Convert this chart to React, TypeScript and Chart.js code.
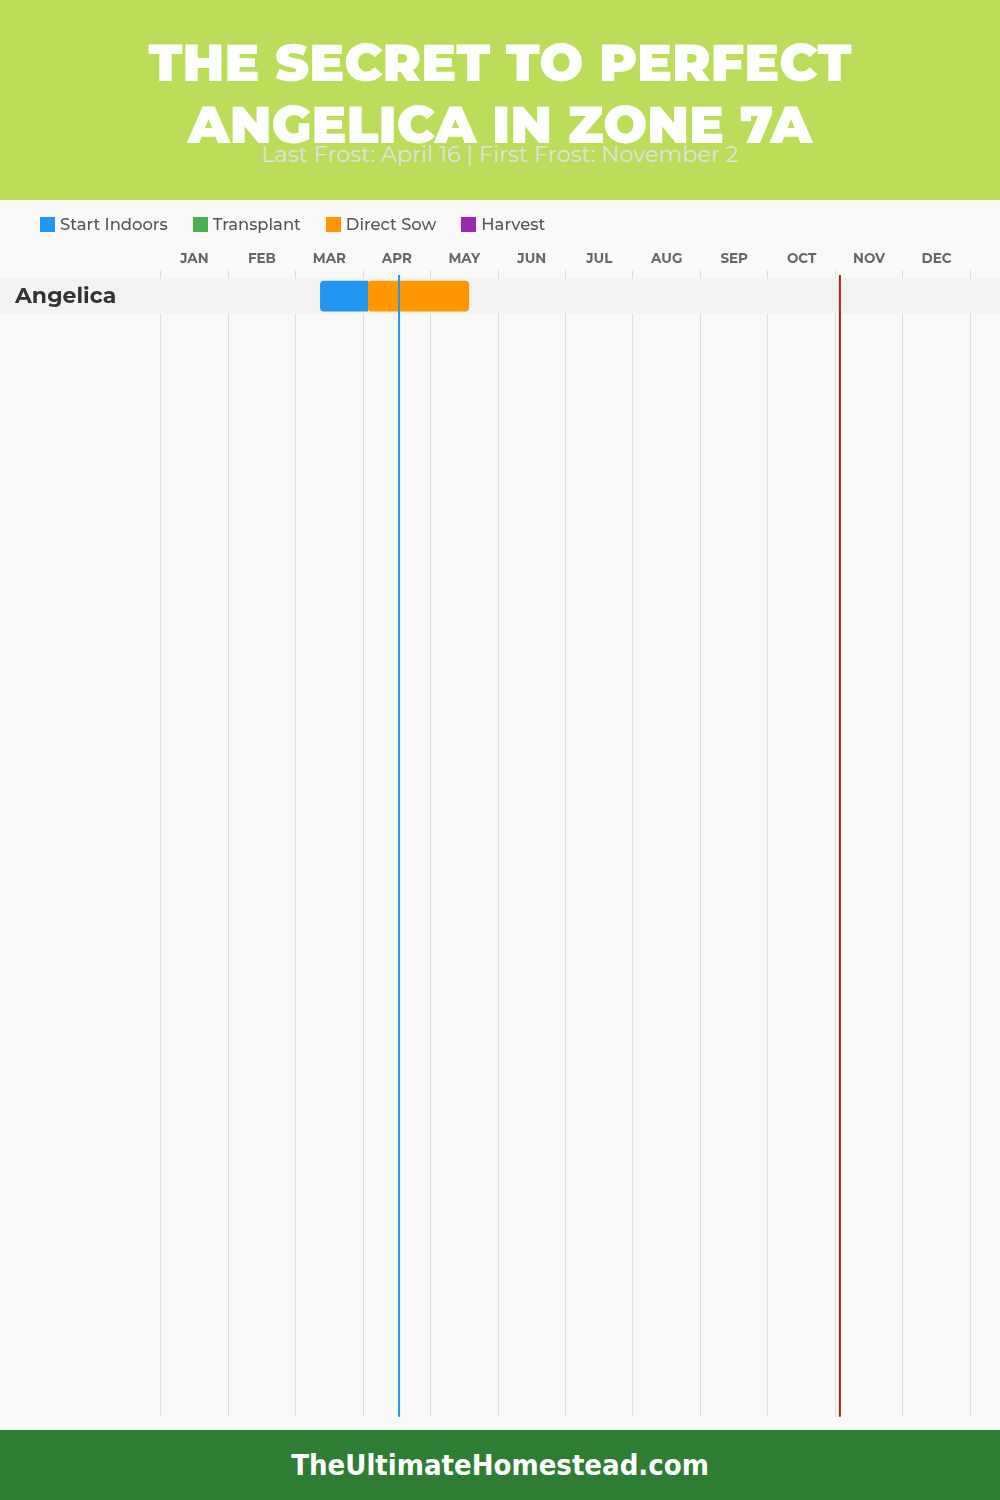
import React, { useEffect, useRef } from 'react';
import { Chart, registerables } from 'chart.js';

Chart.register(...registerables);

const TITLE_LINES = ['THE SECRET TO PERFECT', 'ANGELICA IN ZONE 7A'];
const SUBTITLE = 'Last Frost: April 16 | First Frost: November 2';
const FOOTER = 'TheUltimateHomestead.com';

const MONTHS = ['JAN', 'FEB', 'MAR', 'APR', 'MAY', 'JUN', 'JUL', 'AUG', 'SEP', 'OCT', 'NOV', 'DEC'];
const CROPS = ['Angelica'];

const SERIES_NAMES = ['Start Indoors', 'Transplant', 'Direct Sow', 'Harvest'];
const SERIES_COLORS = ['#2196F3', '#4CAF50', '#FF9800', '#9C27B0'];

// values in month units: month index + day / 30 (one entry per crop, null = none)
const START_INDOORS: (number[] | null)[] = [[2.367, 3.067]];
const TRANSPLANT: (number[] | null)[] = [null];
const DIRECT_SOW: (number[] | null)[] = [[3.067, 4.567]];
const HARVEST: (number[] | null)[] = [null];

const LAST_FROST = 3.533; // April 16
const FIRST_FROST = 10.067; // November 2

const ROW_SLOTS = 32.857;

const FONT = 'Montserrat, Inter, "Noto Sans", sans-serif';

export default function App() {
  const ref = useRef<HTMLCanvasElement>(null);

  useEffect(() => {
    document.body.style.margin = '0';
    const canvas = ref.current;
    if (!canvas) return;

    const series = [START_INDOORS, TRANSPLANT, DIRECT_SOW, HARVEST];
    const datasets = series.map((arr, s) => ({
      label: SERIES_NAMES[s],
      data: arr
        .map((r, i) => (r ? { x: r, y: i } : null))
        .filter((d) => d !== null) as any[],
      backgroundColor: SERIES_COLORS[s],
      borderWidth: 0,
      borderSkipped: false as const,
      borderRadius:
        s === 0
          ? { topLeft: 4, bottomLeft: 4, topRight: 0, bottomRight: 0 }
          : 4,
      barThickness: 30,
      stack: 'row',
    }));

    const rowBand = {
      id: 'rowBand',
      beforeDatasetsDraw(chart: any) {
        const { ctx, scales } = chart;
        const y = scales.y;
        ctx.save();
        ctx.fillStyle = '#F3F3F1';
        CROPS.forEach((_, i) => {
          const top = y.getPixelForValue(i - 0.5);
          const bottom = y.getPixelForValue(i + 0.5);
          ctx.fillRect(0, top, chart.width, bottom - top);
        });
        ctx.restore();
      },
    };

    const frostLines = {
      id: 'frostLines',
      afterDatasetsDraw(chart: any) {
        const { ctx, chartArea, scales } = chart;
        const x = scales.x;
        const lines: [number, string][] = [
          [LAST_FROST, '#2196F3'],
          [FIRST_FROST, '#B71C1C'],
        ];
        ctx.save();
        lines.forEach(([v, c]) => {
          const px = x.getPixelForValue(v);
          ctx.strokeStyle = c;
          ctx.lineWidth = 2;
          ctx.beginPath();
          ctx.moveTo(px, chartArea.top + 5);
          ctx.lineTo(px, chartArea.bottom);
          ctx.stroke();
        });
        ctx.restore();
      },
    };

    const chart = new Chart(canvas, {
      type: 'bar',
      data: { datasets: datasets as any },
      options: {
        indexAxis: 'y',
        animation: false,
        responsive: false,
        layout: { padding: { top: 50, left: 15, right: 29.7, bottom: 10 } },
        plugins: {
          legend: { display: false },
          tooltip: { enabled: false },
        },
        scales: {
          x: {
            type: 'linear',
            position: 'top',
            min: 0,
            max: 12,
            offset: false,
            stacked: false,
            afterFit: (s: any) => {
              s.height = 20;
            },
            grid: {
              color: (c: any) =>
                c.tick && c.tick.value % 1 === 0 ? '#DEDEDE' : 'rgba(0,0,0,0)',
              drawTicks: false,
              lineWidth: 1,
            },
            border: { display: false },
            ticks: {
              stepSize: 0.5,
              autoSkip: false,
              maxRotation: 0,
              padding: 3,
              color: '#666666',
              font: { family: FONT, size: 13.5, weight: 'bold' },
              callback: (v: any) =>
                Number(v) % 1 === 0.5 ? MONTHS[Math.floor(Number(v))] : '',
            },
          },
          y: {
            type: 'linear',
            min: -0.75,
            max: ROW_SLOTS - 0.75,
            reverse: true,
            offset: false,
            stacked: true,
            afterBuildTicks: (s: any) => {
              s.ticks = CROPS.map((_, i) => ({ value: i }));
            },
            afterFit: (s: any) => {
              s.width = 145.7;
            },
            grid: { display: false, offset: false },
            border: { display: false },
            ticks: {
              z: 1,
              crossAlign: 'far',
              padding: 0,
              color: '#333333',
              font: { family: FONT, size: 22, weight: 'bold' },
              callback: (v: any) => CROPS[Number(v)] ?? '',
            },
          },
        } as any,
      },
      plugins: [rowBand, frostLines],
    });

    return () => chart.destroy();
  }, []);

  return (
    <div style={{ width: 1000, fontFamily: FONT }}>
      <div
        style={{
          position: 'relative',
          width: 1000,
          height: 200,
          background: '#BCDD5A',
          overflow: 'hidden',
        }}
      >
        {TITLE_LINES.map((t, i) => (
          <div
            key={i}
            style={{
              position: 'absolute',
              left: 0,
              width: 1000,
              top: 32 + i * 62,
              textAlign: 'center',
              color: '#FFFFFF',
              fontSize: 52,
              fontWeight: 900,
              lineHeight: '62px',
            }}
          >
            {t}
          </div>
        ))}
        <div
          style={{
            position: 'absolute',
            left: 0,
            width: 1000,
            top: 140,
            textAlign: 'center',
            color: '#E3E3E3',
            fontSize: 22.4,
            lineHeight: '28px',
          }}
        >
          {SUBTITLE}
        </div>
      </div>
      <div
        style={{
          position: 'relative',
          width: 1000,
          height: 1230,
          background: '#F9F9F7',
        }}
      >
        <div
          style={{
            position: 'absolute',
            left: 40,
            top: 17,
            display: 'flex',
            alignItems: 'center',
            height: 15,
          }}
        >
          {SERIES_NAMES.map((n, i) => (
            <div
              key={n}
              style={{ display: 'flex', alignItems: 'center', marginRight: 25 }}
            >
              <span
                style={{
                  display: 'inline-block',
                  width: 15,
                  height: 15,
                  background: SERIES_COLORS[i],
                  marginRight: 5,
                }}
              />
              <span
                style={{
                  fontSize: 16.4,
                  fontWeight: 500,
                  color: '#555555',
                  lineHeight: '15px',
                }}
              >
                {n}
              </span>
            </div>
          ))}
        </div>
        <canvas ref={ref} width={1000} height={1230} style={{ display: 'block' }} />
      </div>
      <div
        style={{
          width: 1000,
          height: 70,
          background: '#2E7D32',
          display: 'flex',
          alignItems: 'center',
          justifyContent: 'center',
          color: '#FFFFFF',
          fontFamily: '"DejaVu Sans Condensed", "DejaVu Sans", sans-serif',
          fontStretch: 'condensed',
          fontWeight: 'bold',
          fontSize: 29,
        }}
      >
        {FOOTER}
      </div>
    </div>
  );
}
